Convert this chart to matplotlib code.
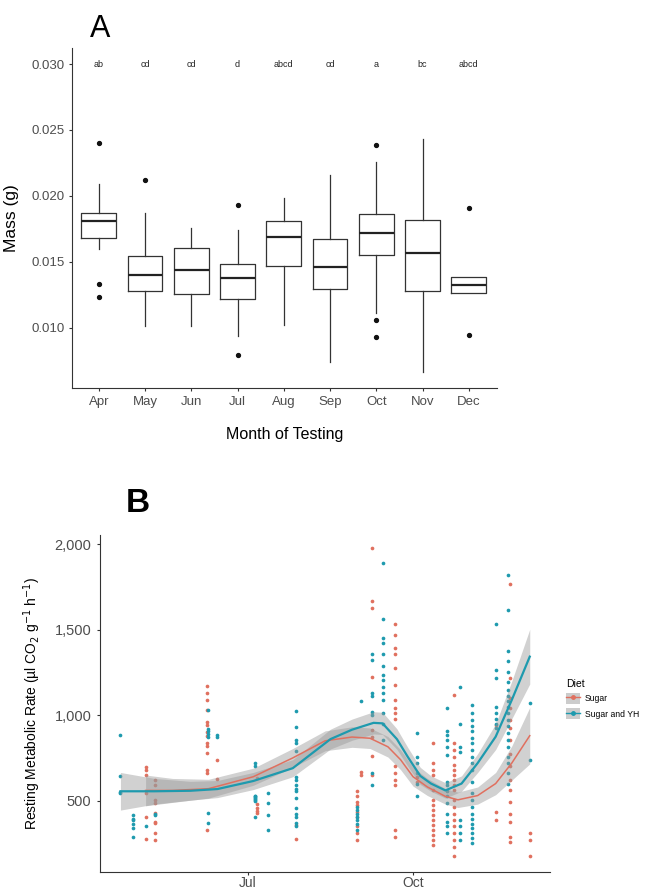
import matplotlib
matplotlib.use("Agg")
import matplotlib.pyplot as plt
from matplotlib.lines import Line2D
from matplotlib.patches import Patch
from matplotlib.ticker import FuncFormatter

plt.rcParams['font.family'] = ['Liberation Sans', 'DejaVu Sans']

# ---- Panel A data: monthly mass boxplots ----
months = ['Apr', 'May', 'Jun', 'Jul', 'Aug', 'Sep', 'Oct', 'Nov', 'Dec']
letters = ['ab', 'cd', 'cd', 'd', 'abcd', 'cd', 'a', 'bc', 'abcd']
q1 = [0.0168, 0.01283, 0.01255, 0.01217, 0.01472, 0.01293, 0.01553, 0.01283, 0.01265]
med = [0.01813, 0.01399, 0.01442, 0.01381, 0.01692, 0.01464, 0.0172, 0.01568, 0.01323]
q3 = [0.01873, 0.01548, 0.01608, 0.01483, 0.01813, 0.01672, 0.01866, 0.01818, 0.01389]
whislo = [0.01596, 0.01015, 0.01015, 0.0094, 0.01025, 0.0074, 0.01116, 0.00664, 0.01265]
whishi = [0.0209, 0.01873, 0.0176, 0.01742, 0.01983, 0.02162, 0.02255, 0.0243, 0.01389]
outliers = [[0.0240, 0.0133, 0.01237], [0.02121], [], [0.0193, 0.00793], [], [],
            [0.02384, 0.01058, 0.0093], [], [0.01907, 0.00945]]

# ---- Panel B data: resting metabolic rate by day of year ----
sugar_days = [125, 130, 159, 165, 187, 209, 243, 245, 251, 264, 276, 285, 297, 320, 328, 339]
sugar_vals = [
    [699, 679, 650, 543, 406, 278],
    [621, 592, 504, 484, 426, 377, 367, 313, 270],
    [1170, 1130, 1090, 1030, 960, 940, 900, 880, 840, 820, 780, 680, 660, 330],
    [740, 625],
    [630, 480, 460, 440, 430],
    [360, 275],
    [555, 525, 495, 475, 435, 405, 350, 310, 270],
    [670, 650],
    [1980, 1665, 1625, 1225, 915, 875, 760, 650],
    [1535, 1470, 1390, 1360, 1275, 1175, 1090, 1040, 1010, 980, 700, 660, 620, 590, 330, 290],
    [640, 610],
    [835, 720, 680, 650, 560, 505, 475, 445, 415, 385, 360, 330, 300, 270, 240],
    [1120, 835, 795, 755, 710, 680, 650, 620, 590, 560, 505, 465, 425, 385, 350, 310, 270, 230, 175],
    [940, 435, 385],
    [1765, 1215, 1100, 1040, 970, 925, 855, 775, 700, 620, 560, 495, 425, 375, 290, 260],
    [310, 270, 175],
]
yh_days = [111, 118, 125, 130, 160, 165, 186, 193, 209, 243, 245, 251, 257, 276, 293, 300, 307, 320, 327, 339]
yh_vals = [
    [885, 645, 550, 545],
    [415, 395, 385, 365, 340, 285],
    [350],
    [425, 415],
    [1030, 920, 910, 890, 870, 430, 370],
    [885, 870],
    [720, 705, 530, 525, 520, 515, 510, 505, 500, 405],
    [545, 485, 415, 330],
    [1025, 930, 855, 835, 790, 640, 620, 590, 570, 555, 515, 455, 425, 405, 370, 350],
    [465, 445, 425, 405, 385, 365, 330],
    [1080],
    [1360, 1320, 1130, 1110, 1020, 1000, 660, 590],
    [1890, 1560, 1450, 1420, 1360, 1290, 1235, 1205, 1165, 1130, 1090, 1010, 950, 855],
    [895, 755, 720, 660, 600, 525],
    [1040, 905, 885, 855, 815, 765, 610, 590, 555, 525, 485, 425, 375, 350, 310],
    [1165, 950, 815, 785, 385, 350, 310, 270],
    [1060, 1010, 970, 935, 905, 865, 835, 795, 755, 720, 680, 610, 545, 505, 465, 425, 395, 365, 340, 310, 280, 250],
    [1535, 1265, 1215, 1050, 1010, 980, 950, 925],
    [1820, 1615, 1375, 1315, 1255, 1195, 1145, 1110, 1080, 1050, 1010, 970, 935, 895, 855, 815, 755, 720, 660, 600],
    [1070, 740],
]

# smoothed fits (day, fit, half-width of ribbon)
sugar_fit_day = [125, 140, 160, 185, 207, 225, 240, 250, 260, 267, 274, 282, 292, 299, 310, 320, 329, 339]
sugar_fit = [560, 560, 570, 640, 750, 850, 872, 865, 815, 740, 640, 580, 525, 505, 530, 600, 720, 880]
sugar_se = [90, 70, 55, 50, 55, 58, 60, 60, 60, 58, 55, 50, 45, 45, 50, 65, 100, 165]
yh_fit_day = [111, 130, 150, 165, 185, 207, 228, 240, 252, 257, 265, 271, 278, 284, 292, 301, 310, 320, 329, 339]
yh_fit = [555, 555, 558, 568, 615, 690, 860, 915, 955, 952, 860, 757, 645, 600, 560, 600, 720, 874, 1089, 1342]
yh_se = [110, 75, 55, 50, 50, 50, 58, 62, 65, 65, 60, 55, 50, 45, 45, 45, 55, 75, 110, 160]

red = '#E0705F'
blue = '#1E9AAE'

fig = plt.figure(figsize=(6.48, 8.92), dpi=100)

# ---------------- Panel A ----------------
axA = fig.add_axes([0.111, 0.565, 0.656, 0.381])
stats = []
for i in range(len(months)):
    stats.append(dict(med=med[i], q1=q1[i], q3=q3[i], whislo=whislo[i],
                      whishi=whishi[i], fliers=outliers[i]))
axA.bxp(stats, positions=range(1, 10), widths=0.75, showfliers=True,
        boxprops=dict(color='#333333', linewidth=0.9),
        medianprops=dict(color='#222222', linewidth=1.6),
        whiskerprops=dict(color='#333333', linewidth=0.9),
        capprops=dict(linewidth=0),
        flierprops=dict(marker='o', markersize=2.8, markerfacecolor='#111111',
                        markeredgecolor='#111111'))
for i, lab in enumerate(letters):
    axA.text(i + 1, 0.0300, lab, ha='center', va='center', fontsize=6.5, color='#222222')
axA.set_xlim(0.42, 9.61)
axA.set_ylim(0.00545, 0.0312)
axA.set_yticks([0.010, 0.015, 0.020, 0.025, 0.030])
axA.set_yticklabels(['0.010', '0.015', '0.020', '0.025', '0.030'])
axA.set_xticks(range(1, 10))
axA.set_xticklabels(months)
axA.tick_params(axis='both', labelsize=9.5, labelcolor='#4d4d4d', length=2, color='#333333')
for s in ['top', 'right']:
    axA.spines[s].set_visible(False)
for s in ['left', 'bottom']:
    axA.spines[s].set_color('#333333')
axA.set_ylabel('Mass (g)', fontsize=12.5)
axA.yaxis.set_label_coords(-0.125, 0.5)
axA.set_xlabel('Month of Testing', fontsize=11.5, labelpad=14)
fig.text(0.155, 0.968, 'A', fontsize=22, ha='center', va='center')

# ---------------- Panel B ----------------
axB = fig.add_axes([0.154, 0.0224, 0.694, 0.378])
for d, vals in zip(sugar_days, sugar_vals):
    axB.scatter([d] * len(vals), vals, s=7, color=red, linewidths=0, zorder=2)
for d, vals in zip(yh_days, yh_vals):
    axB.scatter([d] * len(vals), vals, s=7, color=blue, linewidths=0, zorder=2)

lo = [f - e for f, e in zip(sugar_fit, sugar_se)]
hi = [f + e for f, e in zip(sugar_fit, sugar_se)]
axB.fill_between(sugar_fit_day, lo, hi, color='#999999', alpha=0.45, linewidth=0, zorder=3)
lo = [f - e for f, e in zip(yh_fit, yh_se)]
hi = [f + e for f, e in zip(yh_fit, yh_se)]
axB.fill_between(yh_fit_day, lo, hi, color='#999999', alpha=0.45, linewidth=0, zorder=3)
axB.plot(sugar_fit_day, sugar_fit, color=red, linewidth=1.1, zorder=4)
axB.plot(yh_fit_day, yh_fit, color=blue, linewidth=1.6, zorder=4)

axB.set_xlim(99.5, 350)
axB.set_ylim(83, 2054)
axB.set_xticks([182, 274])
axB.set_xticklabels(['Jul', 'Oct'])
axB.set_yticks([500, 1000, 1500, 2000])
axB.yaxis.set_major_formatter(FuncFormatter(lambda v, p: '{:,.0f}'.format(v)))
axB.tick_params(axis='both', labelsize=10.5, labelcolor='#4d4d4d', length=2.5, color='#333333')
axB.tick_params(axis='x', pad=0.5, labelsize=10)
for s in ['top', 'right']:
    axB.spines[s].set_visible(False)
for s in ['left', 'bottom']:
    axB.spines[s].set_color('#333333')
axB.set_ylabel('Resting Metabolic Rate (µl CO$_2$ g$^{-1}$ h$^{-1}$)', fontsize=10, labelpad=8)
fig.text(0.212, 0.436, 'B', fontsize=24, ha='center', va='center', fontweight='bold')

handles = [
    (Patch(facecolor='#cccccc', edgecolor='none'),
     Line2D([], [], color=red, linewidth=1, marker='o', markersize=2.5)),
    (Patch(facecolor='#cccccc', edgecolor='none'),
     Line2D([], [], color=blue, linewidth=1, marker='o', markersize=2.5)),
]
fig.legend(handles, ['Sugar', 'Sugar and YH'], title='Diet', loc='upper left',
           bbox_to_anchor=(0.868, 0.243), frameon=False, fontsize=6.2,
           title_fontsize=7.5, handlelength=1.6, handleheight=1.6,
           handletextpad=0.6, alignment='left', borderaxespad=0)

fig.savefig('out.png', dpi=100)
